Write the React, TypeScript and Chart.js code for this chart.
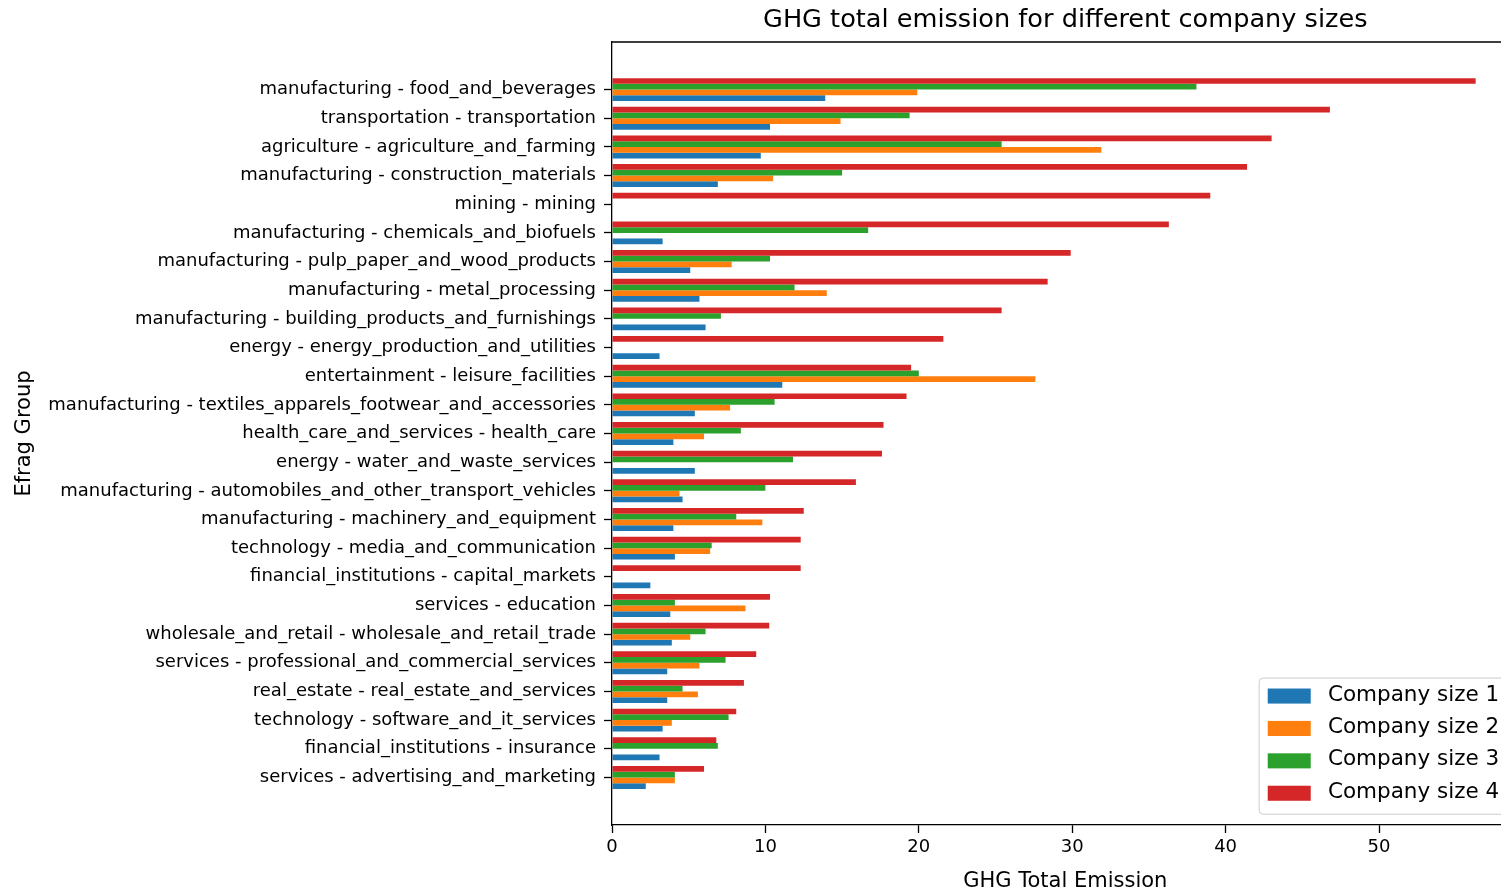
import React, { useEffect, useRef } from "react";
import { Chart, registerables } from "chart.js";

Chart.register(...registerables);

const categories = [
  "manufacturing - food_and_beverages",
  "transportation - transportation",
  "agriculture - agriculture_and_farming",
  "manufacturing - construction_materials",
  "mining - mining",
  "manufacturing - chemicals_and_biofuels",
  "manufacturing - pulp_paper_and_wood_products",
  "manufacturing - metal_processing",
  "manufacturing - building_products_and_furnishings",
  "energy - energy_production_and_utilities",
  "entertainment - leisure_facilities",
  "manufacturing - textiles_apparels_footwear_and_accessories",
  "health_care_and_services - health_care",
  "energy - water_and_waste_services",
  "manufacturing - automobiles_and_other_transport_vehicles",
  "manufacturing - machinery_and_equipment",
  "technology - media_and_communication",
  "financial_institutions - capital_markets",
  "services - education",
  "wholesale_and_retail - wholesale_and_retail_trade",
  "services - professional_and_commercial_services",
  "real_estate - real_estate_and_services",
  "technology - software_and_it_services",
  "financial_institutions - insurance",
  "services - advertising_and_marketing",
];

const companySize1 = [13.9, 10.3, 9.7, 6.9, null, 3.3, 5.1, 5.7, 6.1, 3.1, 11.1, 5.4, 4.0, 5.4, 4.6, 4.0, 4.1, 2.5, 3.8, 3.9, 3.6, 3.6, 3.3, 3.1, 2.2];
const companySize2 = [19.9, 14.9, 31.9, 10.5, null, null, 7.8, 14.0, null, null, 27.6, 7.7, 6.0, null, 4.4, 9.8, 6.4, null, 8.7, 5.1, 5.7, 5.6, 3.9, null, 4.1];
const companySize3 = [38.1, 19.4, 25.4, 15.0, null, 16.7, 10.3, 11.9, 7.1, null, 20.0, 10.6, 8.4, 11.8, 10.0, 8.1, 6.5, null, 4.1, 6.1, 7.4, 4.6, 7.6, 6.9, 4.1];
const companySize4 = [56.3, 46.8, 43.0, 41.4, 39.0, 36.3, 29.9, 28.4, 25.4, 21.6, 19.5, 19.2, 17.7, 17.6, 15.9, 12.5, 12.3, 12.3, 10.3, 10.25, 9.4, 8.6, 8.1, 6.8, 6.0];

const seriesLabels = ["Company size 1", "Company size 2", "Company size 3", "Company size 4"];
const seriesColors = ["#1f77b4", "#ff7f0e", "#2ca02c", "#d62728"];
const xTickValues = [0, 10, 20, 30, 40, 50];

const FONT = "DejaVu Sans";
const W = 1530;
const H = 891;

const framePlugin = {
  id: "frameTop",
  afterDatasetsDraw(chart: any) {
    const { ctx, chartArea } = chart;
    ctx.save();
    ctx.strokeStyle = "#000";
    ctx.lineWidth = 1.3;
    ctx.beginPath();
    ctx.moveTo(chartArea.left, chartArea.top);
    ctx.lineTo(chartArea.right, chartArea.top);
    ctx.lineTo(chartArea.right, chartArea.bottom);
    ctx.stroke();
    ctx.restore();
  },
};

const legendPlugin = {
  id: "innerLegend",
  afterDraw(chart: any) {
    const { ctx, chartArea } = chart;
    const F = 21.5;
    ctx.save();
    ctx.font = `${F}px "${FONT}"`;
    const items = chart.data.datasets.slice().reverse();
    let textW = 0;
    items.forEach((d: any) => {
      textW = Math.max(textW, ctx.measureText(d.label).width);
    });
    const pad = 0.4 * F;
    const handleW = 2 * F;
    const handleH = 0.7 * F;
    const gap = 0.8 * F;
    const rowH = 32.4;
    const boxRight = chartArea.right - 0.5 * F;
    const boxBottom = chartArea.bottom - 0.5 * F;
    const boxW = pad + handleW + gap + textW + pad;
    const boxH = 17 + rowH * (items.length - 1) + 22;
    const boxLeft = boxRight - boxW;
    const boxTop = boxBottom - boxH;
    ctx.beginPath();
    (ctx as any).roundRect(boxLeft, boxTop, boxW, boxH, 4);
    ctx.fillStyle = "rgba(255,255,255,0.8)";
    ctx.fill();
    ctx.strokeStyle = "#cccccc";
    ctx.lineWidth = 1;
    ctx.stroke();
    items.forEach((d: any, i: number) => {
      const cy = boxTop + 17 + i * rowH;
      ctx.fillStyle = d.backgroundColor;
      ctx.fillRect(boxLeft + pad, cy - handleH / 2 + 1, handleW, handleH);
      ctx.fillStyle = "#000";
      ctx.textBaseline = "middle";
      ctx.textAlign = "left";
      ctx.fillText(d.label, boxLeft + pad + handleW + gap, cy);
    });
    ctx.restore();
  },
};

export default function App() {
  const canvasRef = useRef<HTMLCanvasElement | null>(null);

  useEffect(() => {
    if (!canvasRef.current) return;
    const seriesValues = [companySize1, companySize2, companySize3, companySize4];
    const datasets = [3, 2, 1, 0].map((s) => ({
      label: seriesLabels[s],
      data: seriesValues[s].map((v, i) => ({ x: v, y: i })),
      backgroundColor: seriesColors[s],
      borderWidth: 0,
      categoryPercentage: 0.8,
      barPercentage: 1.0,
    }));

    const chart = new Chart(canvasRef.current, {
      type: "bar",
      data: { datasets },
      options: {
        indexAxis: "y",
        animation: false,
        responsive: false,
        devicePixelRatio: 1,
        layout: { padding: { left: 0, right: W - (612 + 59.1 * 15.34), top: 0, bottom: 0 } },
        font: { family: FONT },
        plugins: {
          legend: { display: false },
          tooltip: { enabled: false },
          title: {
            display: true,
            text: "GHG total emission for different company sizes",
            color: "#000",
            fullSize: false,
            font: { family: FONT, size: 25.6, weight: "normal" },
            padding: { top: 5, bottom: 6.3 },
          },
        },
        scales: {
          x: {
            type: "linear",
            position: "bottom",
            min: 0,
            max: 59.1,
            offset: false,
            afterBuildTicks: (scale: any) => {
              scale.ticks = xTickValues.map((v) => ({ value: v }));
            },
            afterFit: (scale: any) => {
              scale.height = H - 825;
            },
            grid: {
              offset: false,
              drawOnChartArea: false,
              drawTicks: true,
              tickLength: 8,
              tickColor: "#000",
              tickWidth: 1.3,
            },
            border: { display: true, color: "#000", width: 1.3 },
            ticks: {
              color: "#000",
              font: { family: FONT, size: 18 },
              padding: 4,
              autoSkip: false,
              maxRotation: 0,
            },
            title: {
              display: true,
              text: "GHG Total Emission",
              color: "#000",
              font: { family: FONT, size: 21, lineHeight: 1 },
              padding: { top: 0, bottom: -1.5 },
            },
          },
          y: {
            type: "linear",
            position: "left",
            reverse: true,
            offset: false,
            min: -1.66,
            max: categories.length - 1 + 1.66,
            afterBuildTicks: (scale: any) => {
              scale.ticks = categories.map((_, i) => ({ value: i }));
            },
            afterFit: (scale: any) => {
              scale.width = 612;
            },
            grid: {
              offset: false,
              drawOnChartArea: false,
              drawTicks: true,
              tickLength: 8,
              tickColor: "#000",
              tickWidth: 1.3,
            },
            border: { display: true, color: "#000", width: 1.3 },
            ticks: {
              color: "#000",
              font: { family: FONT, size: 18 },
              padding: 8,
              autoSkip: false,
              callback: (value: any) => categories[Math.round(Number(value))] ?? "",
            },
            title: {
              display: true,
              text: "Efrag Group",
              color: "#000",
              font: { family: FONT, size: 21, lineHeight: 1 },
              padding: { top: 14, bottom: 0 },
            },
          },
        },
      } as any,
      plugins: [framePlugin, legendPlugin],
    });
    return () => chart.destroy();
  }, []);

  return (
    <div
      style={{
        position: "fixed",
        left: 0,
        top: 0,
        width: 1501,
        height: 891,
        overflow: "hidden",
        background: "#fff",
      }}
    >
      <canvas ref={canvasRef} width={W} height={H} style={{ display: "block", width: W, height: H }} />
    </div>
  );
}
